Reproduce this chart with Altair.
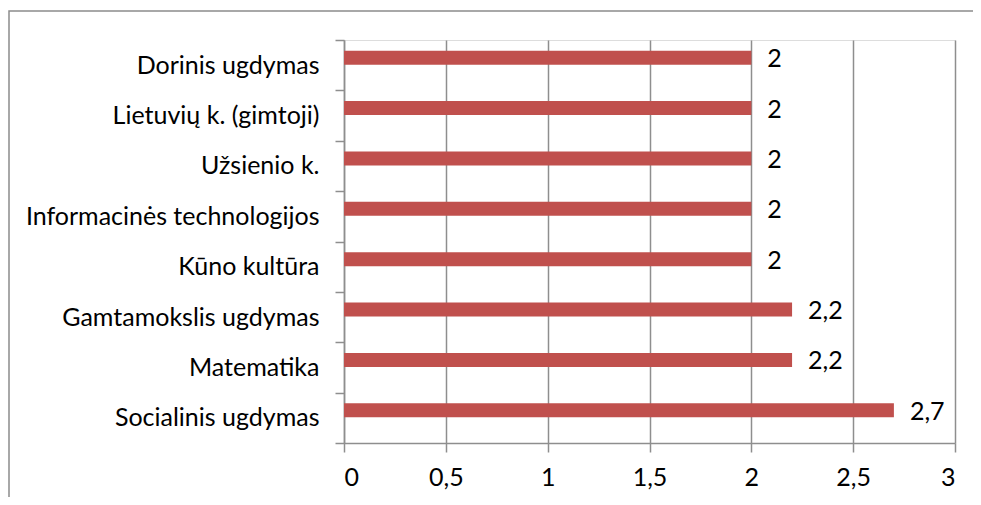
import altair as alt
import pandas as pd

categories = [
    "Dorinis ugdymas",
    "Lietuvių k. (gimtoji)",
    "Užsienio k.",
    "Informacinės technologijos",
    "Kūno kultūra",
    "Gamtamokslis ugdymas",
    "Matematika",
    "Socialinis ugdymas",
]
values = [2, 2, 2, 2, 2, 2.2, 2.2, 2.7]
x_ticks = [0, 0.5, 1, 1.5, 2, 2.5, 3]

df = pd.DataFrame({"category": categories, "value": values})

W, H = 611, 403
FONT = "Lato"
FS = 25
GRID = "#8e8e8e"

y_enc = alt.Y(
    "category:N",
    sort=categories,
    title=None,
    scale=alt.Scale(paddingInner=0, paddingOuter=0),
    axis=alt.Axis(
        tickBand="extent",
        domainColor=GRID,
        tickColor=GRID,
        tickSize=9,
        domainWidth=1.5,
        tickWidth=1.5,
        labelFont=FONT,
        labelFontSize=FS,
        labelColor="black",
        labelPadding=16,
        grid=False,
        labelLimit=500,
    ),
)
x_enc = alt.X(
    "value:Q",
    title=None,
    scale=alt.Scale(domain=[0, 3], nice=False),
    axis=alt.Axis(
        values=x_ticks,
        labelExpr="replace(toString(datum.value), '.', ',')",
        domainColor=GRID,
        tickColor=GRID,
        gridColor=GRID,
        gridWidth=1.5,
        tickSize=9,
        domainWidth=1.5,
        tickWidth=1.5,
        labelFont=FONT,
        labelFontSize=FS,
        labelColor="black",
        labelPadding=13,
        grid=True,
    ),
)

border = alt.Chart(df).mark_rect(
    fill=None, stroke="#8c8c8c", strokeWidth=1.5
).encode(
    x=alt.value(-335), x2=alt.value(W + 60), y=alt.value(-29), y2=alt.value(H + 120)
).transform_filter("datum.category == 'Dorinis ugdymas'")

bars = alt.Chart(df).mark_bar(color="#C0504D", height=14, yOffset=-7.5).encode(
    x=x_enc, y=y_enc
)

labels = alt.Chart(df).mark_text(
    align="left", baseline="middle", dx=16, yOffset=-6,
    font=FONT, fontSize=FS, color="black"
).transform_calculate(
    lbl="replace(toString(datum.value), '.', ',')"
).encode(x="value:Q", y=alt.Y("category:N", sort=categories), text="lbl:N")

chart = alt.layer(border, bars, labels).properties(
    width=W, height=H,
    autosize=alt.AutoSizeParams(type="none"),
    padding={"left": 336, "top": 32, "right": 18, "bottom": 54},
).configure_view(stroke=None).configure(background="white")

chart.save("out.html", embed_options={"renderer": "svg", "actions": False})
